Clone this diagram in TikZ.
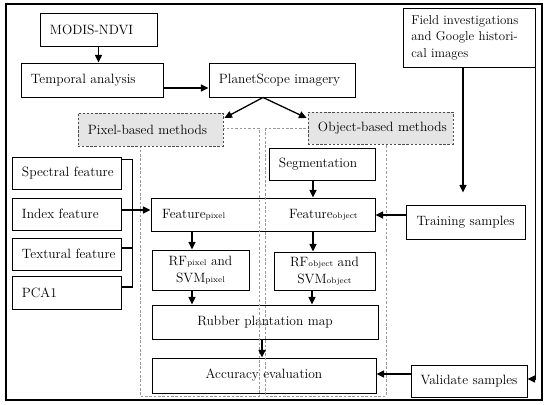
\documentclass[tikz,border=0pt]{standalone}
\usetikzlibrary{calc,arrows.meta}
\begin{document}
\begin{tikzpicture}[x=0.03cm,y=-0.03cm,
  font=\fontsize{11.5}{14}\selectfont,
  box/.style={draw=black,line width=0.8pt,inner xsep=0.3cm,inner ysep=0pt,align=left},
  cbox/.style={draw=black,line width=0.8pt,inner sep=0pt,align=center},
  mbox/.style={draw=black!70,dashed,dash pattern=on 2pt off 1.5pt,fill=black!10,line width=0.7pt,inner xsep=0.3cm,inner ysep=0pt,align=left},
  region/.style={draw=black!40,dash pattern=on 2.2pt off 1.5pt,line width=0.8pt},
  arr/.style={line width=1.1pt,-{Triangle[length=6.5pt,width=6pt]}},
  ln/.style={line width=1.1pt}]
\useasboundingbox (0,0) rectangle (550,405);
\draw[line width=1.1pt] (6,4) rectangle (542,400);

% boxes
\node[box,text width=2.91cm,minimum height=0.99cm] (modis) at (98.5,29.5) {\mbox{MODIS-NDVI}};
\node[box,text width=3.66cm,minimum height=1.02cm] (temporal) at (92,80) {\mbox{Temporal analysis}};
\node[box,text width=3.78cm,minimum height=1.02cm] (planet) at (282,80) {\mbox{PlanetScope imagery}};
\node[box,text width=3.46cm,inner xsep=0.25cm,minimum height=1.77cm,font=\fontsize{11}{14}\selectfont] (field) at (469,37.5) {\mbox{Field investigations}\\\makebox[3.46cm][s]{and Google histori-}\\\mbox{cal images}};
\node[box,text width=2.67cm,minimum height=0.96cm] (spectral) at (66.5,173) {\mbox{Spectral feature}};
\node[box,text width=2.67cm,minimum height=0.96cm] (index) at (66.5,214) {\mbox{Index feature}};
\node[box,text width=2.67cm,minimum height=0.96cm] (textural) at (66.5,254) {\mbox{Textural feature}};
\node[box,text width=2.67cm,minimum height=0.99cm] (pca) at (66.5,292.5) {\mbox{PCA1}};
\node[box,text width=2.58cm,minimum height=0.96cm] (seg) at (322,164) {\mbox{Segmentation}};
\node[cbox,minimum width=6.72cm,minimum height=0.99cm] (feature) at (263,214.5) {};
\node[anchor=west,inner sep=0pt] (featpix) at (162,215) {Feature{\scriptsize pixel}};
\node[anchor=west,inner sep=0pt] (featobj) at (289,215) {Feature{\scriptsize object}};
\node[cbox,minimum width=2.91cm,minimum height=1.2cm] (rfpix) at (200.5,270) {RF{\scriptsize pixel} and\\SVM{\scriptsize pixel}};
\node[cbox,minimum width=3.03cm,minimum height=1.14cm] (rfobj) at (324.5,271) {RF{\scriptsize object} and\\SVM{\scriptsize object}};
\node[cbox,minimum width=6.78cm,minimum height=1.02cm] (rubber) at (265,322) {Rubber plantation map};
\node[cbox,minimum width=6.72cm,minimum height=1.05cm] (accuracy) at (264,375.5) {Accuracy evaluation};
\node[cbox,minimum width=3.57cm,minimum height=1.02cm] (training) at (465.5,222) {Training samples};
\node[cbox,minimum width=3.48cm,minimum height=0.96cm] (validate) at (469,381) {Validate samples};

% regions
\draw[region] (140,128) rectangle (259,396);
\draw[region] (265,128) rectangle (386,396);

% method boxes
\node[mbox,text width=3.75cm,minimum height=0.99cm] (pixelm) at (150.5,129.5) {\mbox{Pixel-based methods}};
\node[mbox,text width=3.75cm,minimum height=0.96cm] (objectm) at (380.5,128) {\mbox{Object-based methods}};

% connectors
\draw[arr] (modis.south) -- (modis.south |- temporal.north);
\draw[arr] ($(temporal.east)+(0,8)$) -- ($(planet.west)+(0,8)$);
\coordinate (ps) at ($(planet.south)+(-19,0)$);
\draw[arr] (ps) -- ($(pixelm.east)+(1,-11.5)$);
\draw[arr] (ps) -- ($(objectm.west)+(-1,-10)$);
\draw[arr] ($(field.south)+(-6,0)$) -- ($(training.north)+(-2.5,-12)$);
\draw[arr] ($(field.north east)+(0,39)$) |- ($(validate.east)+(0,-2)$);

\draw[ln] ($(spectral.north east)+(0,3)$) -| ($(pca.east)+(11,-5.5)$) -- ($(pca.east)+(0,-5.5)$);
\draw[ln] ($(textural.east)+(0,-6)$) -- ++(11,0);
\draw[arr] ($(index.east)+(0,-4)$) -- ($(feature.west)+(0,-4.5)$);

\coordinate (c1) at ($(rfpix.north)+(-8.5,0)$);
\draw[arr] (c1 |- feature.south) -- (c1);
\coordinate (c2) at ($(rfpix.south)+(-8.5,0)$);
\draw[arr] (c2) -- (c2 |- rubber.north);
\coordinate (c3) at ($(seg.south)+(-9,0)$);
\draw[arr] (c3) -- (c3 |- feature.north);
\coordinate (c4) at ($(rfobj.north)+(-11.5,0)$);
\draw[arr] (c4 |- feature.south) -- (c4);
\coordinate (c5) at ($(rfobj.south)+(-12.5,0)$);
\draw[arr] (c5) -- (c5 |- rubber.north);
\coordinate (c6) at ($(rubber.south)+(-3,0)$);
\draw[arr] (c6) -- (c6 |- accuracy.north);
\draw[arr] ($(training.west)+(0,-7)$) -- ($(training.west -| feature.east)+(0,-7)$);
\draw[arr] ($(validate.west)+(0,-7)$) -- ($(validate.west -| accuracy.east)+(0,-7)$);
\end{tikzpicture}
\end{document}
